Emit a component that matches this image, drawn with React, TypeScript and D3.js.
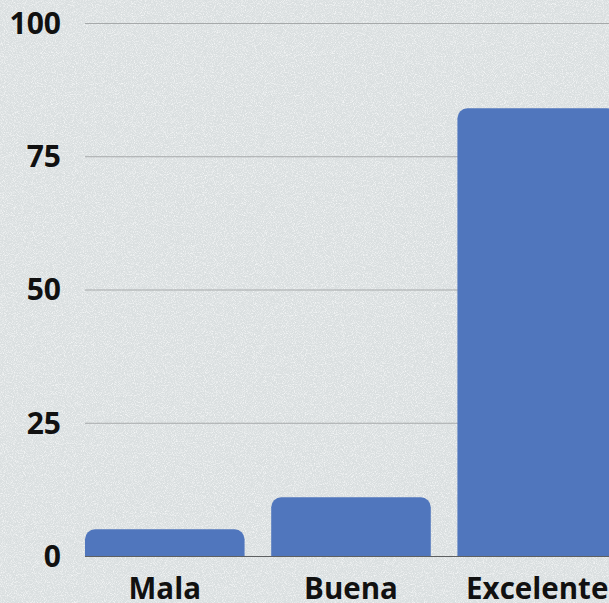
import React from "react";
import * as d3 from "d3";

const categories = ["Mala", "Buena", "Excelente"];
const values = [5, 11, 84];
const yTicks = [0, 25, 50, 75, 100];

const W = 609;
const H = 603;

export default function App() {
  const y = d3.scaleLinear().domain([0, 100]).range([556, 23]);
  const x = d3
    .scaleBand<string>()
    .domain(categories)
    .range([85, 617])
    .paddingInner(0.143)
    .paddingOuter(0);
  const bw = x.bandwidth();
  const r = 10;

  const barPath = (x0: number, top: number, w: number, bottom: number) => {
    const p = d3.path();
    p.moveTo(x0, bottom);
    p.lineTo(x0, top + r);
    p.arcTo(x0, top, x0 + r, top, r);
    p.lineTo(x0 + w - r, top);
    p.arcTo(x0 + w, top, x0 + w, top + r, r);
    p.lineTo(x0 + w, bottom);
    p.closePath();
    return p.toString();
  };

  const font = "'Open Sans', 'Noto Sans', sans-serif";

  return (
    <div style={{ position: "fixed", left: 0, top: 0 }}>
      <svg width={W} height={H} style={{ display: "block" }}>
        <defs>
          <filter id="noise" x="0" y="0" width="100%" height="100%">
            <feTurbulence type="fractalNoise" baseFrequency="1.1" numOctaves="2" seed="3" result="t" />
            <feColorMatrix
              in="t"
              type="matrix"
              values="0 0 0 0 1  0 0 0 0 1  0 0 0 0 1  0 0 0 2.4 -1.05"
            />
          </filter>
        </defs>
        <rect x={0} y={0} width={W} height={H} fill="#dadfe0" />
        <rect x={0} y={0} width={W} height={H} filter="url(#noise)" opacity={0.75} />
        {yTicks.map((t) => (
          <g key={t}>
            {t !== 0 && (
              <line x1={85} x2={W} y1={y(t) + 0.5} y2={y(t) + 0.5} stroke="#a6a9aa" strokeWidth={1} />
            )}
            <text
              x={61}
              y={y(t)}
              dy="0.36em"
              textAnchor="end"
              fontFamily={font}
              fontWeight={700}
              fontSize={30}
              fill="#111"
            >
              {t}
            </text>
          </g>
        ))}
        <line x1={85} x2={W} y1={y(0) + 0.5} y2={y(0) + 0.5} stroke="#5e6061" strokeWidth={1} />
        {categories.map((c, i) => (
          <path key={c} d={barPath(x(c)!, y(values[i]), bw, y(0))} fill="#5076bd" />
        ))}
        {categories.map((c) => (
          <text
            key={c}
            x={x(c)! + bw / 2}
            y={599}
            textAnchor="middle"
            fontFamily={font}
            fontWeight={700}
            fontSize={29.5}
            fill="#111"
          >
            {c}
          </text>
        ))}
      </svg>
    </div>
  );
}
